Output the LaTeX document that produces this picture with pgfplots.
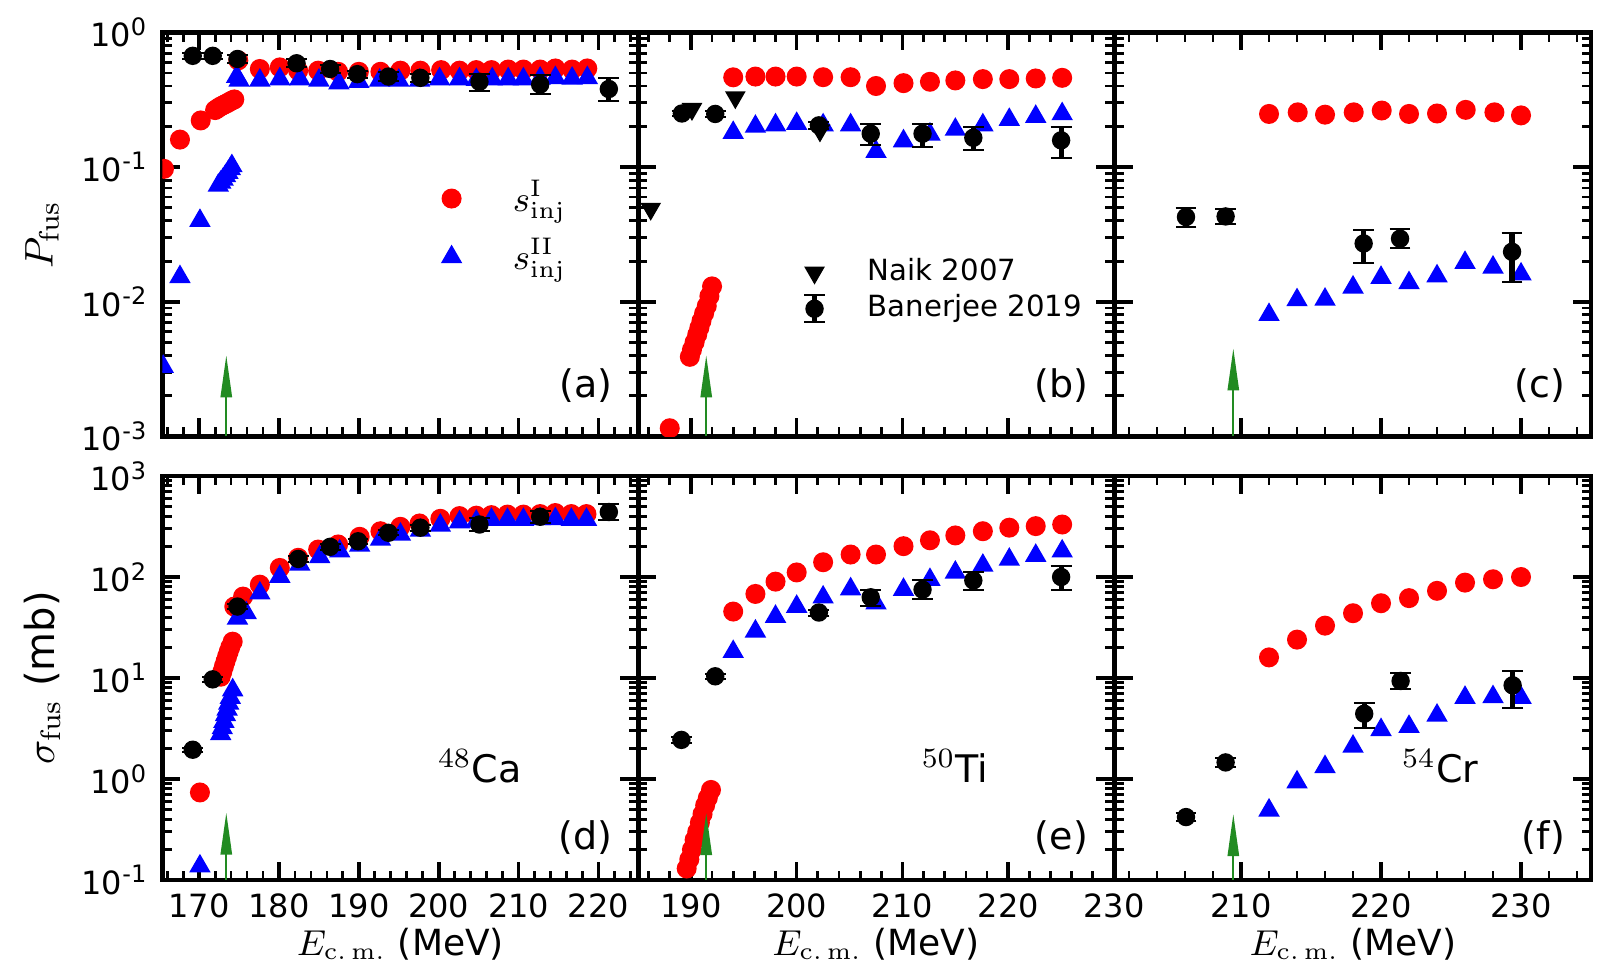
\documentclass[border=0pt]{standalone}
\usepackage[no-math]{fontspec}
\setmainfont{DejaVu Sans}
\usepackage{pgfplots}
\pgfplotsset{compat=1.18}
\usetikzlibrary{arrows.meta}
\definecolor{fgreen}{RGB}{34,139,34}

\pgfplotsset{
  myPan/.style={scale only axis, width=119pt, height=101pt,
    clip marker paths=true,
    axis line style={line width=1.2pt},
    every tick/.style={black, line width=0.9pt},
    every minor tick/.style={black, line width=0.7pt},
    major tick length=4.5pt, minor tick length=2.3pt,
    tick label style={font=\fontsize{8}{9}\selectfont},
    every axis x label/.style={at={(rel axis cs:0.5,-0.158)}, anchor=center, font=\fontsize{9}{10}\selectfont},
    every axis y label/.style={at={(rel axis cs:-0.253,0.5)}, rotate=90, anchor=center, font=\fontsize{10}{11}\selectfont},
  },
  myTop/.style={myPan, ymin=1e-3, ymax=1, ytick={1e-3,1e-2,1e-1,1}, xticklabels={}},
  myBot/.style={myPan, ymin=0.1, ymax=1000, ytick={0.1,1,10,100,1000}},
  mySI/.style={only marks, mark=*, mark size=2.3pt, color=red, mark options={fill=red, draw=red}},
  mySII/.style={only marks, mark=triangle*, mark size=2.7pt, color=blue, mark options={fill=blue, draw=blue}},
  myNaik/.style={only marks, mark=triangle*, mark size=2.6pt, color=black, mark options={rotate=180, fill=black}},
  myBan/.style={only marks, mark=*, mark size=2.1pt, color=black,
    error bars/y dir=both, error bars/y explicit,
    error bars/error bar style={line width=1.3pt},
    error bars/error mark options={rotate=90, mark size=2.6pt, line width=0.5pt}},
}
\tikzset{
  myArr/.style={fgreen, line width=0.5pt, -{Triangle[length=10.5pt,width=2.8pt]}},
  myLab/.style={anchor=east, font=\fontsize{9.5}{11}\selectfont},
}

\begin{document}
\begin{tikzpicture}
\path[use as bounding box] (0,0) rectangle (400.25pt,241.5pt);

% ---------------- (a)
\begin{semilogyaxis}[myTop, at={(40.6pt,132.4pt)}, anchor=south west,
  xmin=165.4, xmax=225, xtick={170,180,...,220}, minor xtick={166,168,...,224},
  yticklabels={10\textsuperscript{-3},10\textsuperscript{-2},10\textsuperscript{-1},10\textsuperscript{0}},
  ylabel={$P_{\mathrm{fus}}$},
  legend style={at={(rel axis cs:0.561,0.677)}, anchor=north west, draw=none, fill=none,
    font=\fontsize{9}{10}\selectfont, row sep=1.2pt, cells={anchor=west, inner ysep=1pt},
    /tikz/every odd column/.append style={column sep=11pt}}]
\addplot[mySI, forget plot] coordinates {
(165.6,0.097)(167.6,0.16)(170.2,0.222)
(172.0,0.265)(172.3,0.272)(172.6,0.280)(172.9,0.286)(173.2,0.292)(173.5,0.298)(173.8,0.305)(174.1,0.312)(174.4,0.318)
(174.9,0.62)(177.6,0.535)(180.1,0.55)(182.4,0.52)(184.9,0.52)(187.4,0.51)(190.0,0.51)(192.7,0.51)(195.2,0.52)
(197.7,0.52)(200.3,0.525)(202.6,0.52)(204.7,0.525)(206.6,0.525)(208.7,0.53)(210.6,0.53)(212.7,0.53)(214.6,0.54)
(216.7,0.53)(218.6,0.54)};
\addplot[mySII, forget plot] coordinates {
(165.5,0.0033)(167.6,0.0153)(170.1,0.040)
(172.4,0.073)(172.7,0.077)(173.0,0.081)(173.3,0.086)(173.6,0.091)(173.9,0.097)(174.1,0.102)
(174.7,0.47)(175.0,0.44)(177.6,0.44)(180.1,0.45)(182.6,0.45)(185.0,0.44)(187.5,0.42)(190.0,0.43)(192.6,0.44)
(195.0,0.44)(197.6,0.44)(200.1,0.45)(202.6,0.45)(204.7,0.445)(206.7,0.45)(208.7,0.45)(210.6,0.45)(212.7,0.455)
(214.6,0.46)(216.7,0.455)(218.6,0.46)};
\addplot[myBan, forget plot] table[x=E, y=Y, y error plus=ep, y error minus=em] {
E Y ep em
169.2 0.67 0.03 0.03
171.7 0.67 0.03 0.03
174.8 0.635 0.04 0.04
182.2 0.59 0.04 0.04
186.4 0.535 0.035 0.035
189.8 0.49 0.03 0.03
193.7 0.47 0.035 0.035
197.7 0.46 0.035 0.035
205.1 0.43 0.06 0.06
212.7 0.41 0.07 0.06
221.3 0.38 0.077 0.07
};
\draw[myArr] (axis cs:173.4,0.001) -- (axis cs:173.4,0.004);
\addlegendimage{only marks, mark=*, mark size=2.3pt, red, mark options={fill=red}}
\addlegendentry{$s_{\mathrm{inj}}^{\mathrm{I}}$}
\addlegendimage{only marks, mark=triangle*, mark size=2.7pt, blue, mark options={fill=blue}}
\addlegendentry{$s_{\mathrm{inj}}^{\mathrm{II}}$}
\node[myLab] at (rel axis cs:0.975,0.125) {(a)};
\end{semilogyaxis}

% ---------------- (b)
\begin{semilogyaxis}[myTop, at={(159.5pt,132.4pt)}, anchor=south west,
  xmin=185, xmax=230, xtick={190,200,...,230}, minor xtick={186,188,...,228},
  yticklabels={},
  legend style={at={(rel axis cs:0.32,0.482)}, anchor=north west, draw=none, fill=none,
    font=\fontsize{7.3}{8.5}\selectfont, row sep=-2pt, cells={anchor=west},
    /tikz/every odd column/.append style={column sep=8.5pt}}]
\addplot[mySI, forget plot] coordinates {
(188.0,0.00115)
(189.9,0.0039)(190.1,0.0044)(190.35,0.0050)(190.6,0.0057)(190.8,0.0064)(191.0,0.0072)(191.25,0.0082)(191.5,0.0093)(191.75,0.0110)(192.0,0.0130)
(194.0,0.464)(196.1,0.47)(198.0,0.47)(200.0,0.47)(202.5,0.465)(205.1,0.465)(207.5,0.40)(210.1,0.42)(212.6,0.43)
(215.0,0.44)(217.6,0.45)(220.1,0.45)(222.6,0.455)(225.1,0.46)};
\addplot[mySII, forget plot] coordinates {
(194.0,0.18)(196.1,0.20)(198.0,0.205)(200.0,0.21)(202.5,0.205)(205.1,0.205)(207.5,0.13)(210.1,0.156)(212.6,0.175)
(215.0,0.19)(217.6,0.205)(220.1,0.225)(222.6,0.237)(225.1,0.248)};
\addplot[myNaik, forget plot] coordinates {(186.2,0.049)(190.1,0.27)(194.2,0.33)(202.2,0.187)};
\addplot[myBan, forget plot] table[x=E, y=Y, y error plus=ep, y error minus=em] {
E Y ep em
189.15 0.25 0.012 0.012
192.3 0.248 0.012 0.012
202.1 0.204 0.012 0.012
207.0 0.177 0.033 0.030
211.9 0.177 0.033 0.037
216.7 0.165 0.033 0.032
225.0 0.158 0.042 0.041
};
\draw[myArr] (axis cs:191.45,0.001) -- (axis cs:191.45,0.004);
\addlegendimage{only marks, mark=triangle*, mark size=2.6pt, black, mark options={rotate=180, fill=black}}
\addlegendentry{Naik 2007}
\addlegendimage{legend image code/.code={
  \draw[black, line width=1.3pt] (0.3cm,-3.4pt) -- (0.3cm,3.4pt);
  \draw[black, line width=0.5pt] (0.3cm-2.6pt,-3.4pt) -- (0.3cm+2.6pt,-3.4pt) (0.3cm-2.6pt,3.4pt) -- (0.3cm+2.6pt,3.4pt);
  \fill[black] (0.3cm,0cm) circle[radius=2.1pt];}}
\addlegendentry{Banerjee 2019}
\node[myLab] at (rel axis cs:0.975,0.125) {(b)};
\end{semilogyaxis}

% ---------------- (c)
\begin{semilogyaxis}[myTop, at={(278.75pt,132.4pt)}, anchor=south west,
  xmin=201, xmax=235, xtick={210,220,230}, minor xtick={202,204,...,234},
  yticklabels={}]
\addplot[mySI] coordinates {
(212.0,0.248)(214.05,0.255)(216.0,0.245)(218.05,0.255)(220.05,0.263)(222.0,0.248)(224.0,0.25)(226.05,0.266)(228.1,0.255)(230.0,0.242)};
\addplot[mySII] coordinates {
(212,0.008)(214,0.0103)(216,0.0104)(218,0.0128)(220,0.0151)(222,0.0138)(224,0.0155)(226,0.0195)(228,0.018)(230,0.016)};
\addplot[myBan] table[x=E, y=Y, y error plus=ep, y error minus=em] {
E Y ep em
206.07 0.0426 0.0071 0.0070
208.9 0.043 0.006 0.005
218.76 0.0271 0.0072 0.0078
221.36 0.0294 0.0054 0.0045
229.36 0.0235 0.0089 0.0094
};
\draw[myArr] (axis cs:209.45,0.001) -- (axis cs:209.45,0.0045);
\node[myLab] at (rel axis cs:0.975,0.125) {(c)};
\end{semilogyaxis}

% ---------------- (d)
\begin{semilogyaxis}[myBot, at={(40.6pt,21.5pt)}, anchor=south west,
  xmin=165.4, xmax=225, xtick={170,180,...,220}, minor xtick={166,168,...,224},
  xticklabels={170,180,190,200,210,220},
  yticklabels={10\textsuperscript{-1},10\textsuperscript{0},10\textsuperscript{1},10\textsuperscript{2},10\textsuperscript{3}},
  ylabel={$\sigma_{\mathrm{fus}}$ (mb)},
  xlabel={$E_{\mathrm{c.\,m.}}$ (MeV)}]
\addplot[mySI] coordinates {
(170.1,0.736)
(172.7,10.3)(172.9,11.5)(173.1,13.0)(173.3,14.6)(173.5,16.3)(173.7,18.2)(173.9,20.2)(174.2,22.9)
(174.4,51)(175.5,64)(177.6,84)(180.1,123)(182.4,155)(184.9,187)(187.4,210)(190.1,250)(192.7,284)(195.2,314)
(197.6,339)(200.2,377)(202.6,401)(204.7,405)(206.6,410)(208.6,415)(210.6,415)(212.7,420)(214.6,430)(216.6,420)(218.5,420)};
\addplot[mySII] coordinates {
(170.1,0.137)
(172.7,2.8)(172.9,3.2)(173.1,3.7)(173.3,4.3)(173.5,4.9)(173.7,5.6)(173.9,6.4)(174.2,7.6)
(174.8,39)(175.9,44)(177.6,69)(180.1,101)(182.6,133)(185.1,158)(187.6,180)(190.1,205)(192.7,235)(195.2,264)
(197.7,289)(200.2,324)(202.6,349)(204.7,355)(206.6,370)(208.6,370)(210.6,370)(212.7,375)(214.6,375)(216.6,370)(218.5,370)};
\addplot[myBan] table[x=E, y=Y, y error plus=ep, y error minus=em] {
E Y ep em
169.2 1.95 0.1 0.1
171.7 9.7 0.5 0.5
174.8 51 3 3
182.4 151 9 9
186.4 199 12 12
189.9 226 14 14
193.7 274 16 16
197.7 308 20 20
205.1 331 56 47
212.7 395 55 55
221.3 440 92 77
};
\draw[myArr] (axis cs:173.4,0.1) -- (axis cs:173.4,0.465);
\node[font=\fontsize{9.5}{11}\selectfont] at (rel axis cs:0.667,0.282) {${}^{48}$Ca};
\node[myLab] at (rel axis cs:0.975,0.106) {(d)};
\end{semilogyaxis}

% ---------------- (e)
\begin{semilogyaxis}[myBot, at={(159.5pt,21.5pt)}, anchor=south west,
  xmin=185, xmax=230, xtick={190,200,...,230}, minor xtick={186,188,...,228},
  xticklabels={190,200,210,220,230},
  yticklabels={},
  xlabel={$E_{\mathrm{c.\,m.}}$ (MeV)}]
\addplot[mySI] coordinates {
(189.6,0.13)(189.85,0.16)(190.1,0.2)(190.35,0.25)(190.6,0.3)(190.85,0.37)(191.1,0.45)(191.35,0.55)(191.6,0.65)(191.9,0.78)
(194.0,45.5)(196.1,68)(198.0,90)(200.0,111)(202.5,140)(205.1,167)(207.5,167)(210.1,202)(212.6,231)(215.0,258)
(217.6,284)(220.1,308)(222.6,319)(225.1,331)};
\addplot[mySII] coordinates {
(194.0,18.2)(196.1,29)(198.0,40.6)(200.0,51)(202.5,63)(205.1,76)(207.5,55)(210.1,75)(212.6,94)(215.0,111)
(217.6,130)(220.1,149)(222.6,163)(225.1,180)};
\addplot[myBan] table[x=E, y=Y, y error plus=ep, y error minus=em] {
E Y ep em
189.1 2.44 0.15 0.15
192.3 10.4 0.6 0.6
202.1 44.5 3 3
207.0 63 12 11
211.9 75 19 15
216.7 92.5 18.5 17.5
225.0 100 28 25
};
\draw[myArr] (axis cs:191.45,0.1) -- (axis cs:191.45,0.46);
\node[font=\fontsize{9.5}{11}\selectfont] at (rel axis cs:0.666,0.282) {${}^{50}$Ti};
\node[myLab] at (rel axis cs:0.975,0.106) {(e)};
\end{semilogyaxis}

% ---------------- (f)
\begin{semilogyaxis}[myBot, at={(278.75pt,21.5pt)}, anchor=south west,
  xmin=201, xmax=235, xtick={210,220,230}, minor xtick={202,204,...,234},
  xticklabels={210,220,230},
  yticklabels={},
  xlabel={$E_{\mathrm{c.\,m.}}$ (MeV)}]
\addplot[mySI] coordinates {
(212,16)(214,24)(216,33)(218,43.8)(220,55)(222,61.8)(224,73)(226,88)(228,95)(230,100)};
\addplot[mySII] coordinates {
(212,0.49)(214,0.93)(216,1.32)(218,2.1)(220,3.07)(222,3.3)(224,4.26)(226,6.4)(228,6.5)(230,6.4)};
\addplot[myBan] table[x=E, y=Y, y error plus=ep, y error minus=em] {
E Y ep em
206.07 0.42 0.04 0.04
208.9 1.46 0.15 0.13
218.8 4.43 1.27 1.24
221.4 9.35 1.85 1.65
229.4 8.47 3.3 3.4
};
\draw[myArr] (axis cs:209.45,0.1) -- (axis cs:209.45,0.45);
\node[font=\fontsize{9.5}{11}\selectfont] at (rel axis cs:0.683,0.282) {${}^{54}$Cr};
\node[myLab] at (rel axis cs:0.975,0.106) {(f)};
\end{semilogyaxis}
\end{tikzpicture}
\end{document}
